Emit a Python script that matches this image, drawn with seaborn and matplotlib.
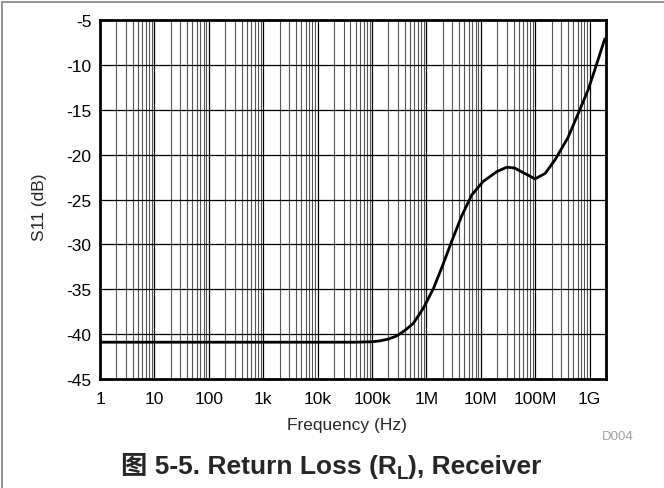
import matplotlib
matplotlib.use('Agg')
import matplotlib.pyplot as plt
from matplotlib.ticker import LogLocator, NullFormatter
from matplotlib.lines import Line2D
import seaborn as sns
import numpy as np
import pandas as pd

# 数据
freq = [1, 10, 100, 1e3, 1e4, 5e4, 1e5, 1.4e5, 2e5, 2.85e5, 4e5, 5.75e5, 8.8e5,
        1.35e6, 2e6, 2.9e6, 4.4e6, 6.8e6, 1.1e7, 1.96e7, 3e7, 4.2e7, 6e7, 9.9e7,
        1.52e8, 2.3e8, 4e8, 6.2e8, 9.5e8, 1.35e9, 1.9e9]
s11 = [-40.9, -40.9, -40.9, -40.9, -40.9, -40.9, -40.85, -40.75, -40.55, -40.2,
       -39.6, -38.8, -37.1, -34.9, -32.3, -29.7, -26.9, -24.5, -23.0, -21.9,
       -21.4, -21.5, -22.0, -22.7, -22.1, -20.6, -18.1, -15.4, -12.7, -9.9, -7.1]
x_ticks = [1, 10, 100, 1e3, 1e4, 1e5, 1e6, 1e7, 1e8, 1e9]
x_labels = ['1', '10', '100', '1k', '10k', '100k', '1M', '10M', '100M', '1G']
y_ticks = [-45, -40, -35, -30, -25, -20, -15, -10, -5]

df = pd.DataFrame({'freq': freq, 's11': s11})

sns.set_style('white')
plt.rcParams['font.family'] = ['Liberation Sans', 'Noto Sans CJK SC']
plt.rcParams['axes.unicode_minus'] = False

fig = plt.figure(figsize=(6.64, 4.89), dpi=100)
ax = fig.add_axes([100 / 664, 1 - 380 / 489, 506 / 664, 359 / 489])
ax.set_xscale('log')

sns.lineplot(data=df, x='freq', y='s11', ax=ax, color='black', lw=2.0, sort=False, zorder=5)

ax.set_xlim(1, 2e9)
ax.set_ylim(-45, -5)
ax.set_xticks(x_ticks)
ax.set_xticklabels(x_labels)
ax.xaxis.set_minor_locator(LogLocator(base=10, subs=np.arange(2, 10), numticks=100))
ax.xaxis.set_minor_formatter(NullFormatter())
ax.set_yticks(y_ticks)

ax.grid(which='major', color='black', lw=0.9)
ax.grid(which='minor', axis='x', color='#555555', lw=0.8)
ax.set_axisbelow(True)
for sp in ax.spines.values():
    sp.set_linewidth(2.0)
    sp.set_color('black')
    sp.set_zorder(6)

ax.tick_params(axis='both', which='both', length=0, labelsize=12.5, colors='black')
ax.tick_params(axis='x', pad=9)
ax.tick_params(axis='y', pad=6)

ax.set_xlabel('Frequency (Hz)', fontsize=12.5)
ax.set_ylabel('S11 (dB)', fontsize=12.5)
ax.xaxis.set_label_coords(0.488, -0.105)
ax.yaxis.set_label_coords(-0.105, 0.48)

fig.text(602 / 664, 1 - 440 / 489, 'D004', fontsize=9.5, color='#a0a0a0', ha='left', va='baseline')

# 外框（左、上）
fig.add_artist(Line2D([0.0023, 0.0023], [0, 0.994], color='#808080', lw=1.2, transform=fig.transFigure))
fig.add_artist(Line2D([0.0023, 1], [0.994, 0.994], color='#808080', lw=1.2, transform=fig.transFigure))

# 标题（分段，下标 L）
fig.canvas.draw()
r = fig.canvas.get_renderer()
parts = [('图 5-5. Return Loss (R', 19, 0), ('L', 13.5, -5), ('), Receiver', 19, 0)]
texts = []
for s, size, dy in parts:
    t = fig.text(0, 0, s, fontsize=size, fontweight='bold', ha='left', va='baseline',
                 family=['Liberation Sans', 'Noto Sans CJK SC'])
    texts.append(t)
widths = [t.get_window_extent(r).width for t in texts]
x0 = 331 - sum(widths) / 2
base = 474
for t, w, (s, size, dy) in zip(texts, widths, parts):
    t.set_position((x0 / 664, 1 - (base - dy) / 489))
    x0 += w

fig.savefig('out.png', dpi=100)
